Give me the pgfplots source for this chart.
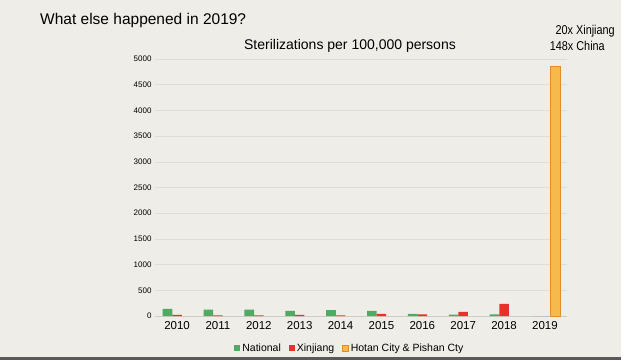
\documentclass[border=0pt]{standalone}
\usepackage{pgfplots}
\pgfplotsset{compat=1.18}
\usepackage{fontspec}
\setmainfont{Liberation Sans}
\newfontfamily\narrowfont[FakeStretch=0.85]{Liberation Sans}
\definecolor{bg}{HTML}{EFEDE7}
\definecolor{gridc}{HTML}{E0DDD6}
\definecolor{axisc}{HTML}{CFCCC5}
\definecolor{natg}{HTML}{4FAA62}
\definecolor{xjr}{HTML}{E5322A}
\definecolor{hot}{HTML}{F6BA4C}
\definecolor{hotd}{HTML}{E08E2C}
\begin{document}
\begin{tikzpicture}[x=1pt,y=1pt]
\useasboundingbox (0,0) rectangle (640,360);
\fill[white] (0,0) rectangle (640,360);
\fill[bg] (0,0) rectangle (621,360);
\fill[black!65] (0,0) rectangle (621,3);
\node[anchor=base west, font=\fontsize{15.5}{18}\selectfont, inner sep=0] at (40,336) {What else happened in 2019?};
\node[anchor=base, font=\fontsize{14}{16}\selectfont, inner sep=0] at (350,311) {Sterilizations per 100,000 persons};
\node[anchor=base east, font=\narrowfont\fontsize{12.8}{14}\selectfont, inner sep=0] at (615,326) {20x Xinjiang};
\node[anchor=base east, font=\narrowfont\fontsize{12.8}{14}\selectfont, inner sep=0] at (605,310) {148x China};
\begin{axis}[
  at={(155pt,44pt)}, anchor=south west, scale only axis,
  width=412pt, height=257pt,
  xmin=-0.54, xmax=9.54, ymin=0, ymax=5000,
  ybar, bar width=9.6pt,
  xtick={0,...,9},
  xticklabels={2010,2011,2012,2013,2014,2015,2016,2017,2018,2019},
  ytick={0,500,...,5000},
  scaled y ticks=false,
  /pgf/number format/1000 sep={},
  /pgf/number format/assume math mode=true,
  ymajorgrids, grid style={color=gridc, line width=0.6pt},
  axis x line*=bottom, axis y line*=left,
  x axis line style={draw=axisc, line width=0.8pt, -},
  y axis line style={draw=none},
  major tick length=0pt,
  xticklabel style={font=\fontsize{11.5}{13}\selectfont, yshift=-2pt},
  yticklabel style={font=\fontsize{8}{9}\selectfont},
  legend columns=3,
  legend style={at={(0.473,-0.125)}, anchor=center, draw=none, fill=none,
    font=\fontsize{10.5}{12}\selectfont, /tikz/every even column/.append style={column sep=6pt}},
  legend image code/.code={\fill[#1] (0pt,-3pt) rectangle (6pt,3pt);},
]
\addplot[fill=natg, draw=none, bar shift=-9.6pt] coordinates {(0,140) (1,125) (2,125) (3,100) (4,115) (5,100) (6,40) (7,25) (8,30) (9,0)};
\addlegendentry{National}
\addplot[fill=xjr, draw=none, bar shift=0pt] coordinates {(0,20) (1,10) (2,10) (3,20) (4,10) (5,40) (6,30) (7,80) (8,235) (9,0)};
\addlegendentry{Xinjiang}
\addplot[fill=hot, draw=hotd, line width=0.5pt, bar shift=10.5pt] coordinates {(9,4850)};
\addlegendentry{Hotan City \& Pishan Cty}
\end{axis}
\end{tikzpicture}
\end{document}
